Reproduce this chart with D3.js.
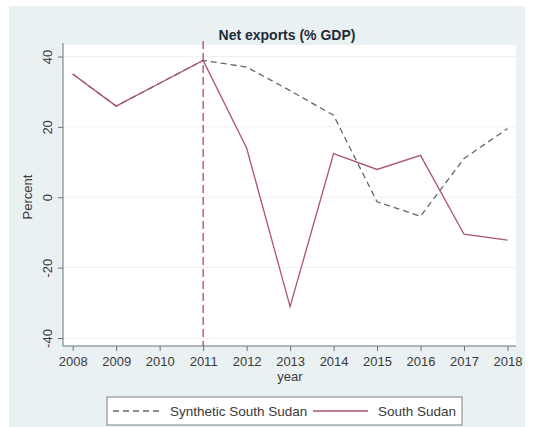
<!DOCTYPE html>
<html>
<head>
<meta charset="utf-8">
<script src="https://cdn.jsdelivr.net/npm/d3@7/dist/d3.min.js"></script>
<style>
  html, body { margin: 0; padding: 0; background: #ffffff; }
  svg { display: block; font-family: "Liberation Sans", Arial, Helvetica, sans-serif; }
</style>
</head>
<body>
<svg id="chart" width="533" height="427"></svg>
<script>
// Net exports as a share of GDP, South Sudan vs. its synthetic control
const years = [2008, 2009, 2010, 2011, 2012, 2013, 2014, 2015, 2016, 2017, 2018];
const southSudan = [35.0, 25.9, 32.4, 38.9, 14.0, -31.1, 12.4, 7.9, 11.9, -10.5, -12.2];
const syntheticSouthSudan = [35.0, 25.9, 32.4, 38.9, 37.0, 30.3, 23.3, -1.3, -5.4, 11.0, 19.5];
const yTicks = [-40, -20, 0, 20, 40];
const treatmentYear = 2011;
const titleText = "Net exports (% GDP)";
const xLabel = "year";
const yLabel = "Percent";
const legendLabels = ["Synthetic South Sudan", "South Sudan"];

const svg = d3.select("#chart");

// panel background
svg.append("rect").attr("x", 9).attr("y", 6).attr("width", 516).attr("height", 421)
  .attr("fill", "#eaf1f3");

const plot = { left: 63, right: 516, top: 45, bottom: 346 };
svg.append("rect").attr("x", plot.left).attr("y", plot.top)
  .attr("width", plot.right - plot.left).attr("height", plot.bottom - plot.top)
  .attr("fill", "#ffffff");

const x = d3.scaleLinear().domain([2008, 2018]).range([72.7, 507.5]);
const y = d3.scaleLinear().domain([-40, 40]).range([338, 56.5]);
const plain = d => String(d);

// horizontal grid lines
svg.append("g").selectAll("line").data(yTicks).join("line")
  .attr("x1", plot.left + 1).attr("x2", plot.right)
  .attr("y1", d => y(d)).attr("y2", d => y(d))
  .attr("stroke", "#eef1f2").attr("stroke-width", 1);

// y axis
const yAxis = svg.append("g").attr("transform", `translate(${plot.left},0)`)
  .call(d3.axisLeft(y).tickValues(yTicks).tickSize(5).tickPadding(4).tickFormat(plain));
yAxis.select(".domain").remove();
yAxis.append("line").attr("x1", 0).attr("x2", 0).attr("y1", plot.top - 2).attr("y2", plot.bottom)
  .attr("stroke", "#6b7478");
yAxis.selectAll(".tick line").attr("stroke", "#6b7478");
yAxis.selectAll(".tick text")
  .attr("fill", "#3a3a3a").attr("font-size", 13)
  .attr("text-anchor", "middle")
  .attr("transform", "rotate(-90)")
  .attr("x", 0).attr("y", -11).attr("dy", "0");

// x axis
const xAxis = svg.append("g").attr("transform", `translate(0,${plot.bottom})`)
  .call(d3.axisBottom(x).tickValues(years).tickSize(5).tickPadding(6).tickFormat(plain));
xAxis.select(".domain").remove();
xAxis.append("line").attr("x1", plot.left).attr("x2", plot.right).attr("y1", 0).attr("y2", 0)
  .attr("stroke", "#6b7478");
xAxis.selectAll(".tick line").attr("stroke", "#6b7478");
xAxis.selectAll(".tick text").attr("fill", "#3a3a3a").attr("font-size", 13);

// titles
svg.append("text").attr("x", 287).attr("y", 40).attr("text-anchor", "middle")
  .attr("font-size", 14).attr("font-weight", "bold").attr("fill", "#1f2a36").text(titleText);
svg.append("text").attr("x", 290).attr("y", 381).attr("text-anchor", "middle")
  .attr("font-size", 13).attr("fill", "#3a3a3a").text(xLabel);
svg.append("text").attr("transform", "translate(32,197) rotate(-90)").attr("text-anchor", "middle")
  .attr("font-size", 13).attr("fill", "#3a3a3a").text(yLabel);

// treatment year marker
svg.append("line").attr("x1", x(treatmentYear)).attr("x2", x(treatmentYear))
  .attr("y1", plot.top - 4).attr("y2", plot.bottom)
  .attr("stroke", "#a8385e").attr("stroke-width", 1.2).attr("stroke-dasharray", "8,4");

const line = d3.line().x((d, i) => x(years[i])).y(d => y(d));

svg.append("path").datum(syntheticSouthSudan).attr("d", line)
  .attr("fill", "none").attr("stroke", "#5c6a70").attr("stroke-width", 1.3)
  .attr("stroke-dasharray", "6,4");
svg.append("path").datum(southSudan).attr("d", line)
  .attr("fill", "none").attr("stroke", "#ad5468").attr("stroke-width", 1.3);

// legend
const lg = svg.append("g");
lg.append("rect").attr("x", 107).attr("y", 397).attr("width", 355).attr("height", 28)
  .attr("fill", "#ffffff").attr("stroke", "#7a7f82").attr("stroke-width", 1);
lg.append("line").attr("x1", 113).attr("x2", 163).attr("y1", 411).attr("y2", 411)
  .attr("stroke", "#5c6a70").attr("stroke-width", 1.3).attr("stroke-dasharray", "6,4");
lg.append("text").attr("x", 170).attr("y", 415.5).attr("font-size", 13.5).attr("fill", "#3a3a3a")
  .text(legendLabels[0]);
lg.append("line").attr("x1", 313).attr("x2", 368).attr("y1", 411).attr("y2", 411)
  .attr("stroke", "#ad5468").attr("stroke-width", 1.3);
lg.append("text").attr("x", 378).attr("y", 415.5).attr("font-size", 13.5).attr("fill", "#3a3a3a")
  .text(legendLabels[1]);
</script>
</body>
</html>
